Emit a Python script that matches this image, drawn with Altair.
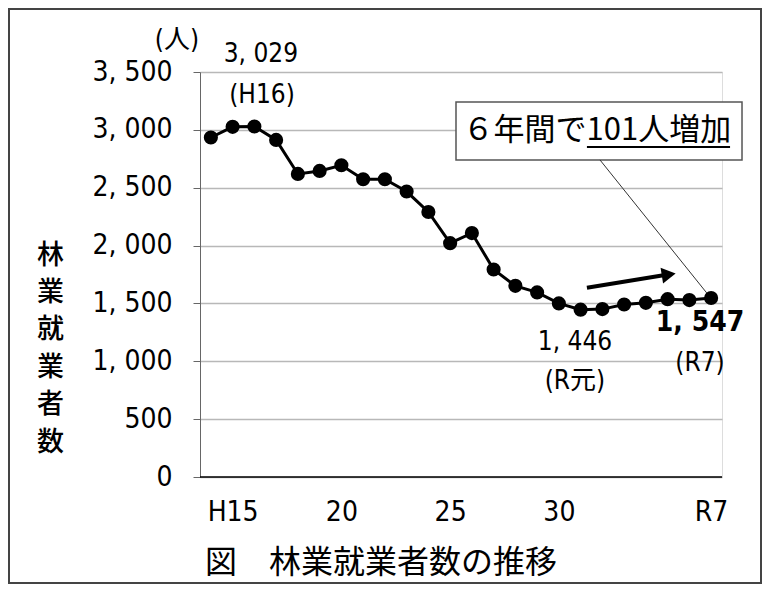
import altair as alt
import pandas as pd

# 年度（H14〜R7）と林業就業者数
years = ["H14", "H15", "H16", "H17", "H18", "H19", "H20", "H21", "H22", "H23",
         "H24", "H25", "H26", "H27", "H28", "H29", "H30", "R1", "R2", "R3",
         "R4", "R5", "R6", "R7"]
workers = [2934, 3026, 3029, 2913, 2619, 2645, 2694, 2573, 2573, 2467,
           2290, 2021, 2108, 1793, 1652, 1595, 1500, 1446, 1451, 1491,
           1505, 1537, 1529, 1547]

# x軸に表示する目盛り
tick_idx = [1, 6, 11, 16, 23]
tick_text = ["H15", "20", "25", "30", "R7"]

# 注記（位置は年度インデックスと人数）
note_x = [-1.56, 2.30, 2.35, 16.74, 16.74, 22.49]
note_y = [3775, 3656, 3301, 1167, 830, 985]
note_text = ["(人)", "3, 029", "(H16)", "1, 446", "(R元)", "(R7)"]
bold_note = {"x": 22.49, "y": 1330, "text": "1, 547"}
caption = "図　林業就業者数の推移"

NUM_FONT = "DejaVu Sans Condensed, Noto Sans CJK JP"
JP_FONT = "Noto Sans CJK JP"

df = pd.DataFrame({"idx": list(range(len(years))), "year": years, "count": workers})
notes = pd.DataFrame({"x": note_x, "y": note_y, "text": note_text})

label_expr = " : ".join(
    f"datum.value == {i} ? '{t}'" for i, t in zip(tick_idx, tick_text)
) + " : ''"

x_enc = alt.X("idx:Q", scale=alt.Scale(domain=[-0.5, 23.5], nice=False, zero=False),
              axis=alt.Axis(values=tick_idx, labelExpr=label_expr, grid=False, ticks=False,
                            domain=False, labelFont=NUM_FONT, labelFontSize=28,
                            labelColor="black", labelPadding=21, title=None))
y_enc = alt.Y("count:Q", scale=alt.Scale(domain=[0, 3500], nice=False),
              axis=alt.Axis(values=list(range(0, 3501, 500)), format=",d",
                            labelExpr="replace(datum.label, ',', ', ')",
                            labelFont=NUM_FONT, labelFontSize=28, labelColor="black",
                            labelPadding=21, tickSize=7, tickColor="#666",
                            domainColor="#666", gridColor="#b8b8b8", gridWidth=1.5,
                            title=list("林業就業者数"), titleAngle=0, titleX=-150, titleY=183,
                            titleAlign="center", titleBaseline="middle",
                            titleFont=JP_FONT, titleFontSize=27, titleFontWeight=500,
                            titleLineHeight=37.4, titleColor="black"))

base = alt.Chart(df)

line = base.mark_line(color="black", strokeWidth=3).encode(x=x_enc, y=y_enc)
points = base.mark_circle(color="black", size=200, opacity=1).encode(x="idx:Q", y="count:Q")

zero_line = alt.Chart(pd.DataFrame({"x": [-0.5], "x2": [23.5], "y": [0]})).mark_rule(
    color="black", strokeWidth=1.5).encode(x="x:Q", x2="x2:Q", y="y:Q")

note_layer = alt.Chart(notes).mark_text(font=NUM_FONT, fontSize=26, color="black",
                                        baseline="middle").encode(
    x="x:Q", y="y:Q", text="text:N")
bold_layer = alt.Chart(pd.DataFrame([bold_note])).mark_text(
    font=NUM_FONT, fontSize=28, fontWeight="bold", color="black", baseline="middle").encode(
    x="x:Q", y="y:Q", text="text:N")

# 吹き出し枠と文字
box = alt.Chart(pd.DataFrame({"x": [11.27], "x2": [24.42], "y": [2740], "y2": [3241]})).mark_rect(
    fill="white", stroke="#555", strokeWidth=1.5).encode(x="x:Q", x2="x2:Q", y="y:Q", y2="y2:Q")
box_text = alt.Chart(pd.DataFrame({"x": [17.75], "y": [2990], "text": ["６年間で101人増加"]})).mark_text(
    font=JP_FONT, fontSize=31, color="black", baseline="middle").encode(
    x="x:Q", y="y:Q", text="text:N")
underline = alt.Chart(pd.DataFrame({"x": [17.29], "x2": [23.87], "y": [2852]})).mark_rule(
    color="black", strokeWidth=2).encode(x="x:Q", x2="x2:Q", y="y:Q")
leader = alt.Chart(pd.DataFrame({"x": [17.89], "x2": [22.8], "y": [2740], "y2": [1590]})).mark_rule(
    color="#333", strokeWidth=1).encode(x="x:Q", x2="x2:Q", y="y:Q", y2="y2:Q")

# 増加を示す矢印
arrow_shaft = alt.Chart(pd.DataFrame({"x": [17.29], "x2": [20.88], "y": [1636], "y2": [1745]})).mark_rule(
    color="black", strokeWidth=4).encode(x="x:Q", x2="x2:Q", y="y:Q", y2="y2:Q")
arrow_head = alt.Chart(pd.DataFrame({"x": [21.05], "y": [1750]})).mark_point(
    shape="triangle-right", filled=True, color="black", opacity=1, size=260, angle=351).encode(
    x="x:Q", y="y:Q")

# 図の外枠と図題
frame = alt.Chart(pd.DataFrame({"a": [0]})).mark_rect(
    filled=False, stroke="#444", strokeWidth=2).encode(
    x=alt.value(-191), x2=alt.value(561), y=alt.value(-63), y2=alt.value(511))
caption_text = alt.Chart(pd.DataFrame({"text": [caption]})).mark_text(
    font=JP_FONT, fontSize=32, color="black", align="left", baseline="middle").encode(
    x=alt.value(5), y=alt.value(491), text="text:N")

chart = alt.layer(
    line, zero_line, points, box, box_text, underline, leader,
    arrow_shaft, arrow_head, note_layer, bold_layer, frame, caption_text
).properties(
    width=522,
    height=405,
    padding={"left": 192, "top": 64, "right": 40, "bottom": 107},
    autosize=alt.AutoSizeParams(type="none"),
).configure_view(stroke=None).configure(background="white")

chart.save("out.html", embed_options={"renderer": "svg", "actions": False})
